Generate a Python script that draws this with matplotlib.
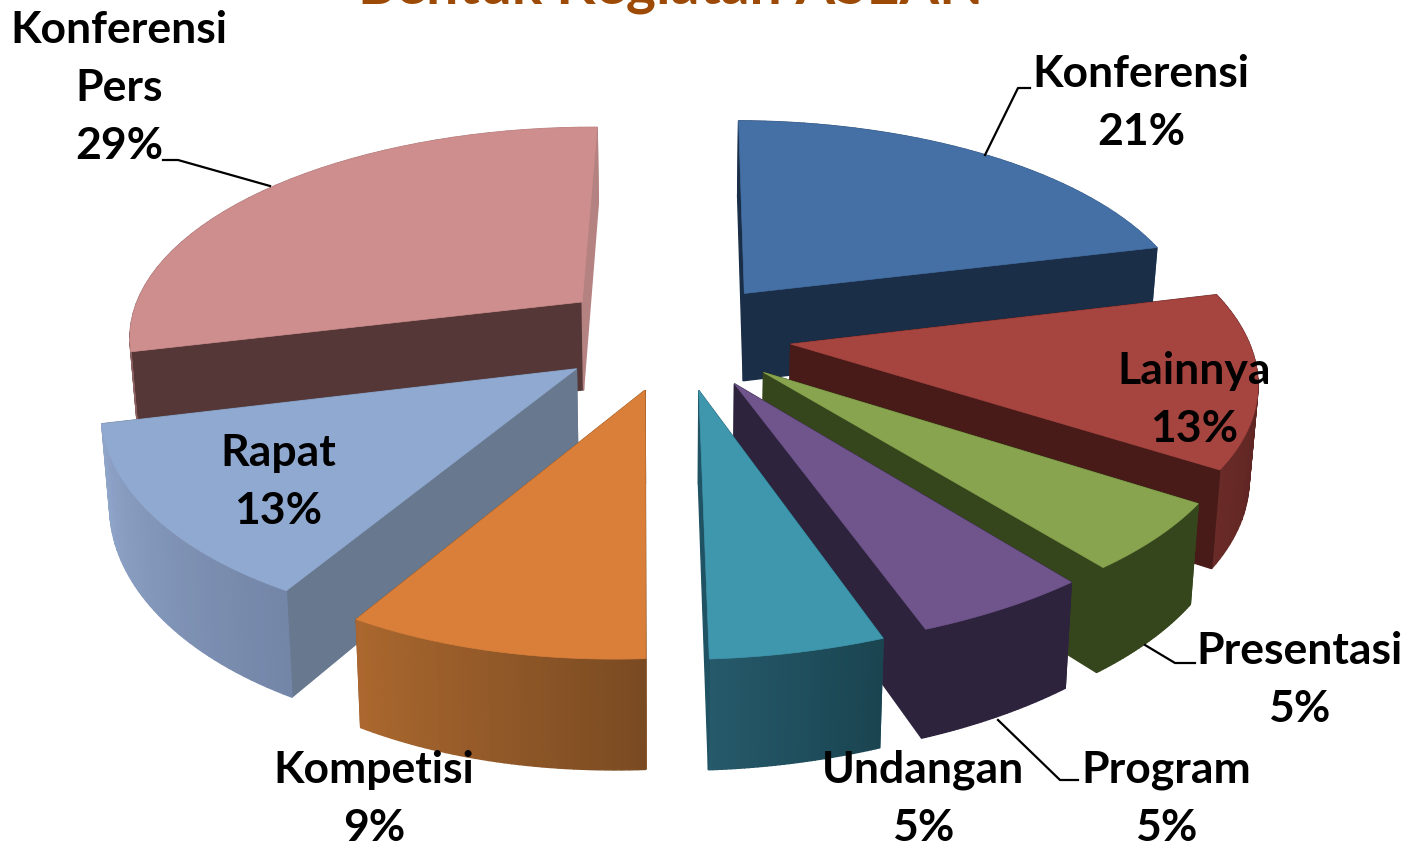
import numpy as np
import matplotlib
matplotlib.use("Agg")
import matplotlib.pyplot as plt
from matplotlib.patches import Polygon

labels = ["Konferensi", "Lainnya", "Presentasi", "Program", "Undangan", "Kompetisi", "Rapat", "Konferensi\nPers"]
values = [21, 13, 5, 5, 5, 9, 13, 29]
top_colors = ["#4470A6", "#A64440", "#88A44E", "#70548C", "#3F97AE", "#D97F3A", "#90A9D0", "#CE8E8D"]
start_face_colors = ["#1A2E47", "#481B18", "#36461C", "#2D233D", "#1F5364", "#8A5427", "#67788F", "#553737"]
end_face_colors = ["#1A2E47", "#481B18", "#36461C", "#2D233D", "#1F5364", "#8A5427", "#67788F", "#B58282"]
rim_start = ["#2A4669", "#4E1D1A", "#36461C", "#2D233D", "#1A4450", "#7A4B22", "#7486A8", "#8C6060"]
rim_end = ["#3C628F", "#6A2B28", "#36461C", "#2D233D", "#265A6B", "#AC682F", "#90A6CA", "#B07A7A"]

EXPLODE, CX, CY, BX, AY, PERS, DEPTH, ROT, SKEW = 0.26, 673, 335, 456, 210, 0.15, 90, np.radians(0.5), 10

plt.rcParams['font.family'] = ['Lato', 'DejaVu Sans']
fig = plt.figure(figsize=(14.10, 8.47), dpi=100)
ax = fig.add_axes([0, 0, 1, 1])
ax.set_xlim(0, 1410)
ax.set_ylim(847, 0)
ax.axis('off')

def project(x, y, low=False):
    s = 1 / (1 - PERS * y)
    shrink = 0.985 if low else 1.0
    skew = SKEW * max(y, 0) ** 4
    return CX + BX * x * s * shrink - skew, CY + (AY * y + (DEPTH if low else 0)) * s

fracs = np.array(values) / sum(values) * 2 * np.pi
ends = np.cumsum(fracs) + ROT
starts = ends - fracs

def wedge_faces(i):
    mid = (starts[i] + ends[i]) / 2
    ox, oy = EXPLODE * np.sin(mid), -EXPLODE * np.cos(mid)
    th = np.linspace(starts[i], ends[i], 40)
    xs = np.r_[ox, ox + np.sin(th)]
    ys = np.r_[oy, oy - np.cos(th)]
    return xs, ys

def area(p):
    p = np.array(p)
    return 0.5 * np.sum(p[:, 0] * np.roll(p[:, 1], -1) - np.roll(p[:, 0], -1) * p[:, 1])

def mix(a, b, t):
    a, b = np.array(matplotlib.colors.to_rgb(a)), np.array(matplotlib.colors.to_rgb(b))
    return a + (b - a) * t

order = [7, 0, 1, 6, 2, 5, 3, 4]
for z, i in enumerate(order):
    xs, ys = wedge_faces(i)
    n = len(xs)
    faces = []
    for k in range(n):
        j = (k + 1) % n
        quad = [project(xs[k], ys[k]), project(xs[j], ys[j]),
                project(xs[j], ys[j], True), project(xs[k], ys[k], True)]
        if k == 0:
            col = start_face_colors[i]
        elif k == n - 1:
            col = end_face_colors[i]
        else:
            col = mix(rim_start[i], rim_end[i], (k - 1) / (n - 2))
        faces.append((area(quad) < 0, quad, col))
    for front in (False, True):
        for f, quad, col in faces:
            if f == front:
                ax.add_patch(Polygon(quad, closed=True, fc=col, ec=col, lw=1.0, zorder=z + 1))
    top = [project(a, b) for a, b in zip(xs, ys)]
    ax.add_patch(Polygon(top, closed=True, fc=top_colors[i], ec=top_colors[i], lw=0.5, zorder=z + 1.5))

def label(i, x, y):
    ax.text(x, y, f"{labels[i]}\n{values[i]}%", ha='center', va='center', fontsize=32,
            fontweight='bold', color='black', zorder=20, linespacing=1.54)

label(0, 1141, 103)
label(1, 1194, 400)
label(2, 1299, 680)
label(3, 1166, 799)
label(4, 923, 799)
label(5, 374, 799)
label(6, 278, 482)
label(7, 119, 88)

for px, py in [((985, 1018, 1030), (155, 88, 88)), ((270, 178, 163), (186, 160, 160)),
               ((1145, 1175, 1195), (645, 663, 663)), ((998, 1060, 1078), (720, 780, 780))]:
    ax.plot(px, py, color='black', lw=1.6, zorder=20)

ax.text(671, 4, "Bentuk Kegiatan ASEAN", ha='center', va='baseline', fontsize=41,
        fontweight='bold', color='#9C4A05', zorder=20, clip_on=True)

fig.savefig("out.png", dpi=100, facecolor='white')
